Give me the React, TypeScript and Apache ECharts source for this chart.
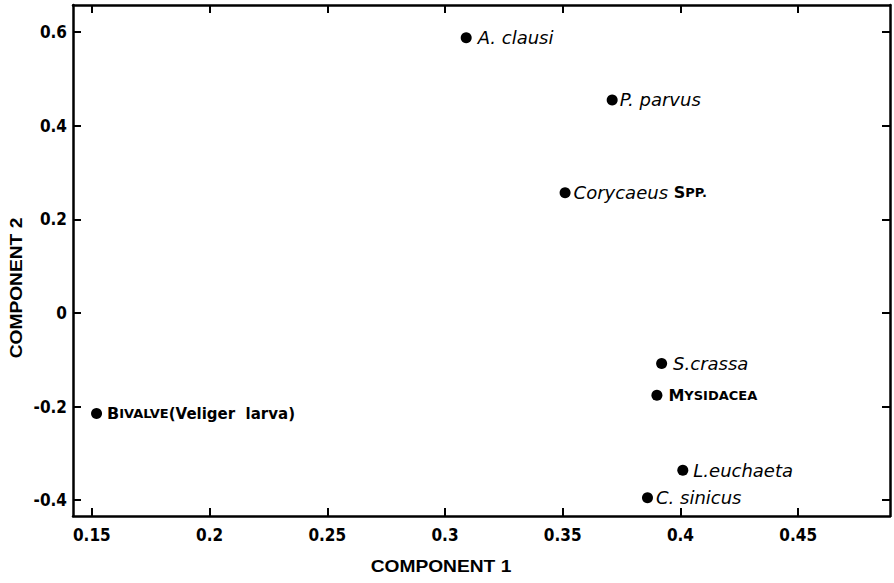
import React, { useEffect, useRef } from "react";
import * as echarts from "echarts";

const speciesNames = [
  "A. clausi",
  "P. parvus",
  "Corycaeus spp.",
  "S.crassa",
  "MYSIDACEA",
  "L.euchaeta",
  "C. sinicus",
  "BIVALVE(Veliger larva)",
];
const component1 = [0.309, 0.371, 0.351, 0.392, 0.39, 0.401, 0.386, 0.152];
const component2 = [0.588, 0.455, 0.257, -0.108, -0.176, -0.336, -0.395, -0.215];
const xTicks = [0.15, 0.2, 0.25, 0.3, 0.35, 0.4, 0.45];
const yTicks = [-0.4, -0.2, 0, 0.2, 0.4, 0.6];
const xTitle = "COMPONENT 1";
const yTitle = "COMPONENT 2";

const richLabel: Record<string, string> = {
  "A. clausi": "{it|A. clausi}",
  "P. parvus": "{it|P. parvus}",
  "Corycaeus spp.": "{it|Corycaeus }{scB|S}{sc|PP.}",
  "S.crassa": "{it|S.crassa}",
  MYSIDACEA: "{scB|M}{sc|YSIDACEA}",
  "L.euchaeta": "{it|L.euchaeta}",
  "C. sinicus": "{it|C. sinicus}",
  "BIVALVE(Veliger larva)": "{scB|B}{sc|IVALVE}{bd|(Veliger  larva)}",
};
const labelDistance: Record<string, number> = {
  "A. clausi": 6,
  "P. parvus": 2,
  "Corycaeus spp.": 3,
  "S.crassa": 6,
  MYSIDACEA: 6,
  "L.euchaeta": 5,
  "C. sinicus": 3,
  "BIVALVE(Veliger larva)": 5,
};

const tickFont = "'Liberation Sans Narrow', 'DejaVu Sans Condensed', 'Liberation Sans', sans-serif";

export default function App() {
  const ref = useRef<HTMLDivElement>(null);
  useEffect(() => {
    document.body.style.margin = "0";
    if (!ref.current) return;
    const chart = echarts.init(ref.current, null, { renderer: "svg" });
    const axisLine = { show: true, onZero: false, lineStyle: { color: "#000", width: 2.5 } };
    const tick = (vals: number[]) => ({
      show: true,
      inside: true,
      length: 8,
      customValues: vals,
      lineStyle: { color: "#000", width: 2 },
    });
    const data = speciesNames.map((n, i) => ({
      name: n,
      value: [component1[i], component2[i]],
      label: { distance: labelDistance[n] },
    }));
    chart.setOption({
      animation: false,
      backgroundColor: "#fff",
      grid: { left: 73, right: 4, top: 5, bottom: 67, containLabel: false },
      xAxis: [
        {
          type: "value",
          min: 0.142,
          max: 0.489,
          position: "bottom",
          axisLine,
          axisTick: tick(xTicks),
          axisLabel: {
            customValues: xTicks,
            color: "#000",
            fontFamily: tickFont,
            fontWeight: "bold",
            fontSize: 17,
            margin: 10,
            formatter: (v: number) => String(v),
          },
          splitLine: { show: false },
        },
        {
          type: "value",
          min: 0.142,
          max: 0.489,
          position: "top",
          axisLine,
          axisTick: tick(xTicks),
          axisLabel: { show: false },
          splitLine: { show: false },
        },
      ],
      yAxis: [
        {
          type: "value",
          min: -0.434,
          max: 0.658,
          position: "left",
          axisLine,
          axisTick: tick(yTicks),
          axisLabel: {
            customValues: yTicks,
            color: "#000",
            fontFamily: tickFont,
            fontWeight: "bold",
            fontSize: 17,
            margin: 6,
            formatter: (v: number) => String(v),
          },
          splitLine: { show: false },
        },
        {
          type: "value",
          min: -0.434,
          max: 0.658,
          position: "right",
          axisLine,
          axisTick: tick(yTicks),
          axisLabel: { show: false },
          splitLine: { show: false },
        },
      ],
      series: [
        {
          type: "scatter",
          xAxisIndex: 0,
          yAxisIndex: 0,
          symbol: "circle",
          symbolSize: 11,
          itemStyle: { color: "#000", opacity: 1 },
          data,
          label: {
            show: true,
            position: "right",
            color: "#000",
            formatter: (p: any) => richLabel[p.name] ?? p.name,
            rich: {
              it: {
                fontFamily: "'DejaVu Sans', sans-serif",
                fontStyle: "italic",
                fontSize: 18,
                color: "#000",
              },
              scB: {
                fontFamily: "'DejaVu Sans', sans-serif",
                fontWeight: "bold",
                fontSize: 16,
                color: "#000",
              },
              sc: {
                fontFamily: "'DejaVu Sans', sans-serif",
                fontWeight: "bold",
                fontSize: 13,
                color: "#000",
              },
              bd: {
                fontFamily: "'DejaVu Sans', sans-serif",
                fontWeight: "bold",
                fontSize: 15,
                color: "#000",
              },
            },
          },
        },
      ],
      graphic: [
        {
          type: "text",
          x: 441,
          y: 567,
          scaleX: 1.2,
          style: {
            text: xTitle,
            fontFamily: "'Liberation Sans', Arial, sans-serif",
            fontWeight: "bold",
            fontSize: 16,
            fill: "#000",
            textAlign: "center",
            textVerticalAlign: "middle",
          },
        },
        {
          type: "text",
          x: 17,
          y: 288,
          rotation: Math.PI / 2,
          scaleX: 1.2,
          style: {
            text: yTitle,
            fontFamily: "'Liberation Sans', Arial, sans-serif",
            fontWeight: "bold",
            fontSize: 16,
            fill: "#000",
            textAlign: "center",
            textVerticalAlign: "middle",
          },
        },
      ],
    });
    return () => chart.dispose();
  }, []);
  return <div ref={ref} style={{ width: 894, height: 583 }} />;
}
